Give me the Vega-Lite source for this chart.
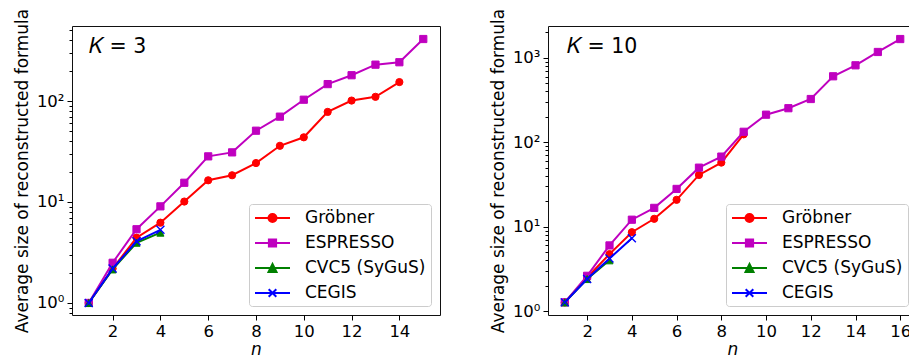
{
  "$schema": "https://vega.github.io/schema/vega-lite/v6.json",
  "padding": {"left": 12, "top": 7, "right": 0, "bottom": 0},
  "background": "white",
  "datasets": {
    "pts": [
      {"K": 3, "n": 1, "m": "Gröbner", "v": 1.0},
      {"K": 3, "n": 2, "m": "Gröbner", "v": 2.19},
      {"K": 3, "n": 3, "m": "Gröbner", "v": 4.43},
      {"K": 3, "n": 4, "m": "Gröbner", "v": 6.24},
      {"K": 3, "n": 5, "m": "Gröbner", "v": 10.1},
      {"K": 3, "n": 6, "m": "Gröbner", "v": 16.4},
      {"K": 3, "n": 7, "m": "Gröbner", "v": 18.4},
      {"K": 3, "n": 8, "m": "Gröbner", "v": 24.3},
      {"K": 3, "n": 9, "m": "Gröbner", "v": 36},
      {"K": 3, "n": 10, "m": "Gröbner", "v": 43.7},
      {"K": 3, "n": 11, "m": "Gröbner", "v": 78},
      {"K": 3, "n": 12, "m": "Gröbner", "v": 101},
      {"K": 3, "n": 13, "m": "Gröbner", "v": 110},
      {"K": 3, "n": 14, "m": "Gröbner", "v": 154},
      {"K": 3, "n": 1, "m": "ESPRESSO", "v": 1.0},
      {"K": 3, "n": 2, "m": "ESPRESSO", "v": 2.5},
      {"K": 3, "n": 3, "m": "ESPRESSO", "v": 5.37},
      {"K": 3, "n": 4, "m": "ESPRESSO", "v": 9.05},
      {"K": 3, "n": 5, "m": "ESPRESSO", "v": 15.5},
      {"K": 3, "n": 6, "m": "ESPRESSO", "v": 28.3},
      {"K": 3, "n": 7, "m": "ESPRESSO", "v": 31},
      {"K": 3, "n": 8, "m": "ESPRESSO", "v": 50.8},
      {"K": 3, "n": 9, "m": "ESPRESSO", "v": 70},
      {"K": 3, "n": 10, "m": "ESPRESSO", "v": 103},
      {"K": 3, "n": 11, "m": "ESPRESSO", "v": 147},
      {"K": 3, "n": 12, "m": "ESPRESSO", "v": 180},
      {"K": 3, "n": 13, "m": "ESPRESSO", "v": 229},
      {"K": 3, "n": 14, "m": "ESPRESSO", "v": 242},
      {"K": 3, "n": 15, "m": "ESPRESSO", "v": 411},
      {"K": 3, "n": 1, "m": "CVC5 (SyGuS)", "v": 1.0},
      {"K": 3, "n": 2, "m": "CVC5 (SyGuS)", "v": 2.15},
      {"K": 3, "n": 3, "m": "CVC5 (SyGuS)", "v": 3.95},
      {"K": 3, "n": 4, "m": "CVC5 (SyGuS)", "v": 4.97},
      {"K": 3, "n": 1, "m": "CEGIS", "v": 1.0},
      {"K": 3, "n": 2, "m": "CEGIS", "v": 2.19},
      {"K": 3, "n": 3, "m": "CEGIS", "v": 4.08},
      {"K": 3, "n": 4, "m": "CEGIS", "v": 5.3},
      {"K": 10, "n": 1, "m": "Gröbner", "v": 1.27},
      {"K": 10, "n": 2, "m": "Gröbner", "v": 2.5},
      {"K": 10, "n": 3, "m": "Gröbner", "v": 4.73},
      {"K": 10, "n": 4, "m": "Gröbner", "v": 8.6},
      {"K": 10, "n": 5, "m": "Gröbner", "v": 12.4},
      {"K": 10, "n": 6, "m": "Gröbner", "v": 20.8},
      {"K": 10, "n": 7, "m": "Gröbner", "v": 41},
      {"K": 10, "n": 8, "m": "Gröbner", "v": 57.4},
      {"K": 10, "n": 9, "m": "Gröbner", "v": 124},
      {"K": 10, "n": 1, "m": "ESPRESSO", "v": 1.27},
      {"K": 10, "n": 2, "m": "ESPRESSO", "v": 2.62},
      {"K": 10, "n": 3, "m": "ESPRESSO", "v": 6.0},
      {"K": 10, "n": 4, "m": "ESPRESSO", "v": 12.1},
      {"K": 10, "n": 5, "m": "ESPRESSO", "v": 16.7},
      {"K": 10, "n": 6, "m": "ESPRESSO", "v": 28},
      {"K": 10, "n": 7, "m": "ESPRESSO", "v": 50},
      {"K": 10, "n": 8, "m": "ESPRESSO", "v": 67.6},
      {"K": 10, "n": 9, "m": "ESPRESSO", "v": 133},
      {"K": 10, "n": 10, "m": "ESPRESSO", "v": 212},
      {"K": 10, "n": 11, "m": "ESPRESSO", "v": 253},
      {"K": 10, "n": 12, "m": "ESPRESSO", "v": 325},
      {"K": 10, "n": 13, "m": "ESPRESSO", "v": 604},
      {"K": 10, "n": 14, "m": "ESPRESSO", "v": 815},
      {"K": 10, "n": 15, "m": "ESPRESSO", "v": 1172},
      {"K": 10, "n": 16, "m": "ESPRESSO", "v": 1668},
      {"K": 10, "n": 1, "m": "CVC5 (SyGuS)", "v": 1.27},
      {"K": 10, "n": 2, "m": "CVC5 (SyGuS)", "v": 2.4},
      {"K": 10, "n": 3, "m": "CVC5 (SyGuS)", "v": 4.0},
      {"K": 10, "n": 1, "m": "CEGIS", "v": 1.27},
      {"K": 10, "n": 2, "m": "CEGIS", "v": 2.4},
      {"K": 10, "n": 3, "m": "CEGIS", "v": 4.2},
      {"K": 10, "n": 4, "m": "CEGIS", "v": 7.3}
    ]
  },
  "config": {
    "font": "DejaVu Sans",
    "view": {"stroke": "#111111", "strokeWidth": 1},
    "axis": {
      "grid": false, "domain": false,
      "tickColor": "black", "labelColor": "black", "titleColor": "black",
      "labelFont": "DejaVu Sans", "titleFont": "DejaVu Sans",
      "labelFontSize": 16.5, "titleFontSize": 17, "titleFontWeight": "normal",
      "tickSize": 5, "tickWidth": 1, "labelPadding": 3,
      "labelFlush": false, "labelOverlap": false
    },
    "legend": {
      "orient": "bottom-right", "offset": 9, "padding": 5,
      "strokeColor": "#cccccc", "fillColor": "white", "cornerRadius": 3,
      "labelFont": "DejaVu Sans", "labelFontSize": 17, "labelColor": "black",
      "symbolSize": 256, "symbolStrokeWidth": 2, "labelOffset": 33,
      "rowPadding": 8, "symbolOpacity": 1
    },
    "title": {
      "font": "DejaVu Sans", "fontSize": 20.5, "fontWeight": "normal",
      "color": "black", "anchor": "start", "frame": "group"
    }
  },
  "spacing": 108,
  "bounds": "flush",
  "resolve": {
    "scale": {"shape": "independent", "fill": "independent", "stroke": "independent"},
    "legend": {"shape": "independent", "fill": "independent", "stroke": "independent"}
  },
  "hconcat": [
    {
      "width": 368, "height": 289,
      "title": {"text": "𝐾 = 3", "offset": -49, "dx": 17},
      "data": {"name": "pts"},
      "transform": [{"filter": "datum.K == 3"}],
      "resolve": {"axis": {"x": "independent", "y": "independent"}},
      "layer": [
        {
          "transform": [{"filter": "datum.m == 'Gröbner'"}],
          "mark": {"type": "line", "color": "#ff0000", "strokeWidth": 2,
                   "point": {"filled": true, "shape": "circle", "size": 52, "fill": "#ff0000", "stroke": "#ff0000", "strokeWidth": 1}},
          "encoding": {
            "x": {"field": "n", "type": "quantitative",
                  "scale": {"domain": [0.3, 15.7], "nice": false, "zero": false},
                  "axis": {"orient": "bottom", "values": [2, 4, 6, 8, 10, 12, 14], "title": "n", "titleFontStyle": "italic", "titlePadding": 2}},
            "y": {"field": "v", "type": "quantitative",
                  "scale": {"type": "log", "domain": [0.76, 553], "nice": false},
                  "axis": {"orient": "left", "values": [1, 10, 100], "labelExpr": "datum.value == 1 ? '10⁰' : datum.value == 10 ? '10¹' : datum.value == 100 ? '10²' : '10³'", "title": "Average size of reconstructed formula", "titlePadding": 5}}
          }
        },
        {
          "transform": [{"filter": "datum.m == 'ESPRESSO'"}],
          "mark": {"type": "line", "color": "#bf00bf", "strokeWidth": 2,
                   "point": {"filled": true, "shape": "square", "size": 52, "fill": "#bf00bf", "stroke": "#bf00bf", "strokeWidth": 1}},
          "encoding": {
            "x": {"field": "n", "type": "quantitative", "axis": null},
            "y": {"field": "v", "type": "quantitative", "axis": null}
          }
        },
        {
          "transform": [{"filter": "datum.m == 'CVC5 (SyGuS)'"}],
          "mark": {"type": "line", "color": "#008000", "strokeWidth": 2,
                   "point": {"filled": true, "shape": "M0,-1L1,1L-1,1Z", "size": 50, "fill": "#008000", "stroke": "#008000", "strokeWidth": 1}},
          "encoding": {
            "x": {"field": "n", "type": "quantitative", "axis": null},
            "y": {"field": "v", "type": "quantitative", "axis": null}
          }
        },
        {
          "transform": [{"filter": "datum.m == 'CEGIS'"}],
          "mark": {"type": "line", "color": "#0000ff", "strokeWidth": 2,
                   "point": {"filled": false, "shape": "M-1,-1L1,1M-1,1L1,-1", "size": 64, "stroke": "#0000ff", "strokeWidth": 1.4}},
          "encoding": {
            "x": {"field": "n", "type": "quantitative", "axis": null},
            "y": {"field": "v", "type": "quantitative", "axis": null}
          }
        },
        {
          "transform": [{"filter": "false"}],
          "mark": {"type": "point", "filled": true},
          "encoding": {
            "x": {"field": "n", "type": "quantitative", "axis": null},
            "y": {"field": "v", "type": "quantitative",
                  "axis": {"orient": "left", "values": [0.8, 0.9, 2, 3, 4, 5, 6, 7, 8, 9, 20, 30, 40, 50, 60, 70, 80, 90, 200, 300, 400, 500], "labels": false, "tickSize": 3, "title": null}},
            "shape": {"field": "m", "type": "nominal",
                      "scale": {"domain": ["Gröbner", "ESPRESSO", "CVC5 (SyGuS)", "CEGIS"],
                                "range": ["M-1,0H3.375M1.6875,0A0.5,0.5,0,1,1,0.6875,0A0.5,0.5,0,1,1,1.6875,0Z",
                                          "M-1,0H3.375M0.7375,-0.45H1.6375V0.45H0.7375Z",
                                          "M-1,0H3.375M1.1875,-0.5L1.6875,0.5H0.6875Z",
                                          "M-1,0H3.375M0.7125,-0.475L1.6625,0.475M0.7125,0.475L1.6625,-0.475"]},
                      "legend": {"title": null}},
            "fill": {"field": "m", "type": "nominal",
                     "scale": {"domain": ["Gröbner", "ESPRESSO", "CVC5 (SyGuS)", "CEGIS"], "range": ["#ff0000", "#bf00bf", "#008000", "#0000ff"]},
                     "legend": {"title": null}},
            "stroke": {"field": "m", "type": "nominal",
                       "scale": {"domain": ["Gröbner", "ESPRESSO", "CVC5 (SyGuS)", "CEGIS"], "range": ["#ff0000", "#bf00bf", "#008000", "#0000ff"]},
                       "legend": {"title": null}}
          }
        }
      ]
    },
    {
      "width": 369, "height": 289,
      "title": {"text": "𝐾 = 10", "offset": -49, "dx": 19},
      "data": {"name": "pts"},
      "transform": [{"filter": "datum.K == 10"}],
      "resolve": {"axis": {"x": "independent", "y": "independent"}},
      "layer": [
        {
          "transform": [{"filter": "datum.m == 'Gröbner'"}],
          "mark": {"type": "line", "color": "#ff0000", "strokeWidth": 2,
                   "point": {"filled": true, "shape": "circle", "size": 52, "fill": "#ff0000", "stroke": "#ff0000", "strokeWidth": 1}},
          "encoding": {
            "x": {"field": "n", "type": "quantitative",
                  "scale": {"domain": [0.25, 16.75], "nice": false, "zero": false},
                  "axis": {"orient": "bottom", "values": [2, 4, 6, 8, 10, 12, 14, 16], "title": "n", "titleFontStyle": "italic", "titlePadding": 2}},
            "y": {"field": "v", "type": "quantitative",
                  "scale": {"type": "log", "domain": [0.9, 2380], "nice": false},
                  "axis": {"orient": "left", "values": [1, 10, 100, 1000], "labelExpr": "datum.value == 1 ? '10⁰' : datum.value == 10 ? '10¹' : datum.value == 100 ? '10²' : '10³'", "title": "Average size of reconstructed formula", "titlePadding": 5}}
          }
        },
        {
          "transform": [{"filter": "datum.m == 'ESPRESSO'"}],
          "mark": {"type": "line", "color": "#bf00bf", "strokeWidth": 2,
                   "point": {"filled": true, "shape": "square", "size": 52, "fill": "#bf00bf", "stroke": "#bf00bf", "strokeWidth": 1}},
          "encoding": {
            "x": {"field": "n", "type": "quantitative", "axis": null},
            "y": {"field": "v", "type": "quantitative", "axis": null}
          }
        },
        {
          "transform": [{"filter": "datum.m == 'CVC5 (SyGuS)'"}],
          "mark": {"type": "line", "color": "#008000", "strokeWidth": 2,
                   "point": {"filled": true, "shape": "M0,-1L1,1L-1,1Z", "size": 50, "fill": "#008000", "stroke": "#008000", "strokeWidth": 1}},
          "encoding": {
            "x": {"field": "n", "type": "quantitative", "axis": null},
            "y": {"field": "v", "type": "quantitative", "axis": null}
          }
        },
        {
          "transform": [{"filter": "datum.m == 'CEGIS'"}],
          "mark": {"type": "line", "color": "#0000ff", "strokeWidth": 2,
                   "point": {"filled": false, "shape": "M-1,-1L1,1M-1,1L1,-1", "size": 64, "stroke": "#0000ff", "strokeWidth": 1.4}},
          "encoding": {
            "x": {"field": "n", "type": "quantitative", "axis": null},
            "y": {"field": "v", "type": "quantitative", "axis": null}
          }
        },
        {
          "transform": [{"filter": "false"}],
          "mark": {"type": "point", "filled": true},
          "encoding": {
            "x": {"field": "n", "type": "quantitative", "axis": null},
            "y": {"field": "v", "type": "quantitative",
                  "axis": {"orient": "left", "values": [2, 3, 4, 5, 6, 7, 8, 9, 20, 30, 40, 50, 60, 70, 80, 90, 200, 300, 400, 500, 600, 700, 800, 900, 2000], "labels": false, "tickSize": 3, "title": null}},
            "shape": {"field": "m", "type": "nominal",
                      "scale": {"domain": ["Gröbner", "ESPRESSO", "CVC5 (SyGuS)", "CEGIS"],
                                "range": ["M-1,0H3.375M1.6875,0A0.5,0.5,0,1,1,0.6875,0A0.5,0.5,0,1,1,1.6875,0Z",
                                          "M-1,0H3.375M0.7375,-0.45H1.6375V0.45H0.7375Z",
                                          "M-1,0H3.375M1.1875,-0.5L1.6875,0.5H0.6875Z",
                                          "M-1,0H3.375M0.7125,-0.475L1.6625,0.475M0.7125,0.475L1.6625,-0.475"]},
                      "legend": {"title": null}},
            "fill": {"field": "m", "type": "nominal",
                     "scale": {"domain": ["Gröbner", "ESPRESSO", "CVC5 (SyGuS)", "CEGIS"], "range": ["#ff0000", "#bf00bf", "#008000", "#0000ff"]},
                     "legend": {"title": null}},
            "stroke": {"field": "m", "type": "nominal",
                       "scale": {"domain": ["Gröbner", "ESPRESSO", "CVC5 (SyGuS)", "CEGIS"], "range": ["#ff0000", "#bf00bf", "#008000", "#0000ff"]},
                       "legend": {"title": null}}
          }
        }
      ]
    }
  ]
}
